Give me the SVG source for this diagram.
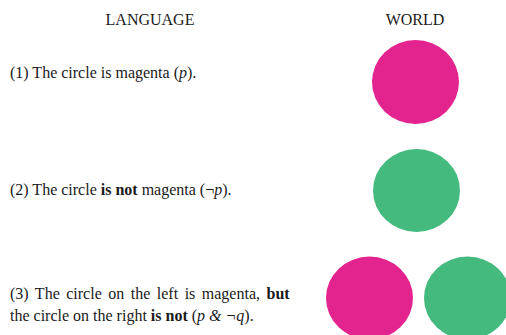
<svg xmlns="http://www.w3.org/2000/svg" width="506" height="335" viewBox="0 0 506 335">
<style>
text{font-family:"Liberation Serif","Times New Roman",serif;font-size:16px;fill:#1a1a1a}
.b{font-weight:bold}
.i{font-style:italic}
.mag{fill:#E3238E}
.grn{fill:#45BA7F}
</style>
<rect width="506" height="335" fill="#fff"/>
<g id="headers">
<text x="150" y="25" text-anchor="middle">LANGUAGE</text>
<text x="415" y="25" text-anchor="middle">WORLD</text>
</g>
<g id="s1">
<text x="10" y="78">(1) The circle is magenta (<tspan class="i">p</tspan>).</text>
</g>
<g id="s2">
<text x="10" y="195">(2) The circle <tspan class="b">is not</tspan> magenta (¬<tspan class="i">p</tspan>).</text>
</g>
<g id="s3">
<text x="10" y="299" word-spacing="2.5">(3) The circle on the left is magenta, <tspan class="b">but</tspan></text>
<text x="10" y="321">the circle on the right <tspan class="b">is not</tspan> (<tspan class="i">p &amp; ¬q</tspan>).</text>
</g>
<g id="w1"><ellipse class="mag" cx="415.5" cy="82" rx="43.5" ry="42"/></g>
<g id="w2"><ellipse class="grn" cx="416.5" cy="190.5" rx="43.5" ry="41.5"/></g>
<g id="w3">
<ellipse class="mag" cx="369.5" cy="298" rx="43.5" ry="41.5"/>
<ellipse class="grn" cx="467.5" cy="298" rx="43.5" ry="41.5"/>
</g>
</svg>
